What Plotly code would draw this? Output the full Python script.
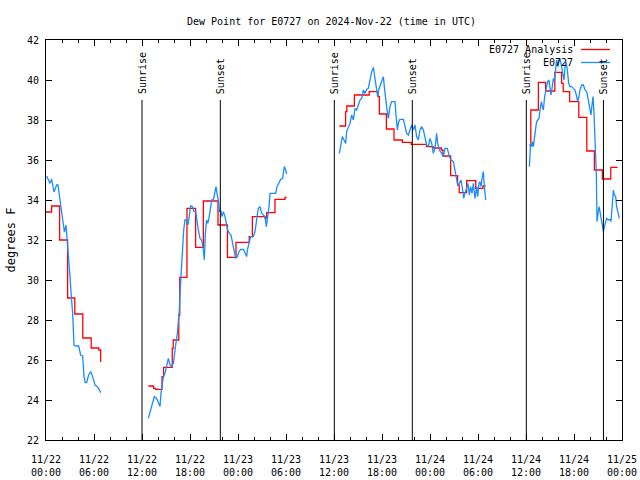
import plotly.graph_objects as go

# ---------------- data (hours since 2024-11-22 00:00 UTC) ----------------
obs_t1 = [0.08,0.5,0.7,1.0,1.33,1.5,1.75,1.96,2.17,2.3,2.5,2.67,2.83,3.0,3.2,3.33,3.5,3.75,4.08,4.33,4.58,4.75,4.9,5.08,5.33,5.58,5.83,6.13,6.42,6.58,6.83]
obs_v1 = [35.2,34.83,35.05,34.4,34.75,34.75,34.0,33.4,32.8,32.4,32.75,32.0,31.17,30.17,29.0,28.35,26.75,26.7,26.7,26.25,26.2,25.17,24.87,24.87,25.25,25.42,25.17,24.75,24.67,24.58,24.37]

obs_t2 = [12.79,13.08,13.42,13.54,13.83,14.04,14.25,14.375,14.54,14.67,14.875,15.08,15.29,15.5,15.71,15.92,16.04,16.21,16.42,16.54,16.67,16.75,16.875,17.0,17.08,17.21,17.375,17.58,17.75,17.92,18.08,18.29,18.5,18.71,18.83,19.04,19.25,19.46,19.67,19.79,19.92,20.08,20.21,20.33,20.5,20.71,20.92,21.125,21.25,21.375,21.54,21.67,21.83,22.0,22.17,22.375,22.54,22.71,22.92,23.125,23.33,23.5,23.71,23.92,24.125,24.33,24.67,24.92,25.08,25.17,25.33,25.58,25.92,26.125,26.33,26.54,26.75,26.96,27.17,27.375,27.54,27.71,27.875,28.0,28.33,28.71,28.875,29.125,29.33,29.58,29.79,29.96,30.08]
obs_v2 = [23.08,23.5,24.0,24.17,24.08,23.83,23.67,24.33,24.83,25.17,25.33,25.67,26.08,25.75,25.67,25.83,26.33,26.75,27.33,27.83,28.5,29.33,30.08,30.83,31.83,32.5,33.0,33.0,32.75,33.42,33.7,33.67,33.42,33.42,33.0,32.5,32.08,32.0,31.5,31.0,32.33,33.0,32.83,33.0,33.42,34.0,34.0,34.33,34.67,34.33,34.0,33.42,33.5,33.17,33.42,33.17,32.83,32.5,32.33,32.25,31.83,31.42,31.08,31.17,31.42,31.53,31.53,31.33,31.17,31.5,31.83,32.17,32.17,32.42,33.0,33.58,33.67,33.33,33.25,33.17,32.67,33.08,33.67,34.33,34.33,34.33,34.67,34.83,35.03,35.08,35.67,35.5,35.3]

obs_t3 = [36.67,36.83,37.04,37.25,37.46,37.58,37.79,38.0,38.21,38.42,38.625,38.83,39.04,39.25,39.46,39.67,39.875,40.08,40.29,40.5,40.71,40.92,41.04,41.21,41.33,41.46,41.58,41.75,41.96,42.17,42.29,42.46,42.58,42.79,43.0,43.21,43.625,43.75,43.92,44.08,44.25,44.67,44.875,45.08,45.29,45.5,45.71,45.92,46.125,46.33,46.54,46.75,46.96,47.17,47.375,47.58,47.79,48.0,48.21,48.42,48.625,48.83,48.96,49.17,49.46,49.67,49.875,50.17,50.42,50.625,50.92,51.125,51.33,51.46,51.67,51.875,52.08,52.21,52.375,52.58,52.75,52.92,53.08,53.25,53.42,53.625,53.83,53.96,54.125,54.25,54.375,54.54,54.67,54.79,54.96]
obs_v3 = [36.33,36.67,37.17,37.0,36.83,37.42,37.67,37.83,38.25,38.0,38.58,38.5,38.75,39.0,39.08,39.5,39.33,39.53,39.58,40.0,40.42,40.63,40.33,39.92,39.5,39.17,39.5,39.67,39.92,40.17,39.67,39.0,38.67,38.08,38.67,38.92,38.92,38.25,37.5,37.92,38.03,38.03,37.67,37.33,37.25,37.5,37.75,37.5,37.75,37.17,37.0,37.5,37.67,37.5,37.17,36.75,36.67,37.08,36.83,36.33,36.58,37.33,36.83,36.5,36.33,36.17,36.58,36.58,36.17,36.0,35.92,35.5,35.17,34.75,34.83,35.0,34.5,34.08,34.33,34.67,34.83,34.25,34.67,34.33,34.83,34.08,34.67,34.17,34.83,34.92,34.67,35.17,35.42,34.67,34.0]

obs_t4 = [60.42,60.58,60.71,60.83,60.92,61.04,61.21,61.33,61.46,61.625,61.75,61.92,62.04,62.17,62.33,62.5,62.71,62.875,63.0,63.125,63.29,63.42,63.54,63.71,63.83,64.0,64.125,64.29,64.46,64.625,64.75,64.875,65.0,65.17,65.33,65.5,65.71,65.92,66.125,66.29,66.46,66.625,66.75,66.96,67.17,67.375,67.58,67.79,68.0,68.125,68.25,68.375,68.5,68.67,68.79,68.875,69.0,69.125,69.25,69.375,69.54,69.67,69.79,69.96,70.08,70.29,70.5,70.625,70.79,70.92,71.04,71.21,71.33,71.5,71.67]
obs_v4 = [35.67,36.83,36.67,36.92,36.67,37.17,37.58,37.92,38.0,38.08,38.5,38.92,38.67,38.5,39.17,39.58,39.92,40.0,39.67,39.25,39.67,40.08,39.92,40.5,41.0,40.67,41.0,41.0,40.58,40.33,40.0,40.67,40.92,40.5,39.83,39.67,39.67,39.58,39.5,39.25,38.92,39.17,39.5,39.75,39.75,39.5,39.42,39.0,38.5,38.25,38.75,39.17,38.33,37.0,35.33,32.92,33.5,33.67,33.42,33.08,32.67,32.42,32.67,32.92,33.08,33.0,33.03,32.92,33.75,34.5,34.25,34.17,33.67,33.42,33.08]

ana_t1 = [0.0,0.7,1.7,2.7,3.6,4.6,5.65,6.6,6.83]
ana_v1 = [33.4,33.7,32.0,29.1,28.3,27.1,26.6,26.5,25.9]
ana_t2 = [12.79,13.45,13.7,14.5,14.7,15.78,15.9,16.6,16.72,17.62,18.7,19.67,21.5,22.68,23.75,25.4,25.8,27.375,27.58,28.625,29.875,30.08]
ana_v2 = [24.7,24.58,24.53,25.17,25.63,26.58,27.0,28.25,30.13,33.58,31.63,33.95,32.75,31.13,31.88,32.17,33.17,33.1,33.37,34.03,34.13,34.13]
ana_t3 = [36.67,37.45,37.6,38.55,40.4,41.5,41.67,42.55,43.5,44.55,45.65,47.55,48.4,49.42,49.62,50.58,51.45,51.65,52.58,53.72,54.62,54.96]
ana_v3 = [37.7,38.42,38.7,39.25,39.42,39.17,38.3,37.55,37.0,36.88,36.78,36.67,36.6,36.5,36.2,35.22,34.75,34.37,34.97,34.58,34.7,34.7]
ana_t4 = [60.42,60.6,61.55,62.45,63.6,64.45,64.65,65.45,66.6,67.6,68.55,69.55,70.6,71.45]
ana_v4 = [36.75,38.5,39.88,39.45,40.38,39.83,39.42,38.92,38.13,36.45,35.5,35.05,35.63,35.63]

sunrise_t = [12.0, 36.04, 60.04]
sunset_t = [21.79, 45.79, 69.68]

tick_hours = [0, 6, 12, 18, 24, 30, 36, 42, 48, 54, 60, 66, 72]
tick_labels = ["11/22<br>00:00", "11/22<br>06:00", "11/22<br>12:00", "11/22<br>18:00",
               "11/23<br>00:00", "11/23<br>06:00", "11/23<br>12:00", "11/23<br>18:00",
               "11/24<br>00:00", "11/24<br>06:00", "11/24<br>12:00", "11/24<br>18:00",
               "11/25<br>00:00"]

title_text = "Dew Point for E0727 on 2024-Nov-22 (time in UTC)"
name_ana = "E0727 Analysis"
name_obs = "E0727"
RED = "#ff0000"
BLUE = "#1a8cff"


def join(*segs):
    xs, ys = [], []
    for t, v in segs:
        if xs:
            xs.append(None)
            ys.append(None)
        xs += t
        ys += v
    return xs, ys


ax, ay = join((ana_t1, ana_v1), (ana_t2, ana_v2), (ana_t3, ana_v3), (ana_t4, ana_v4))
bx, by = join((obs_t1, obs_v1), (obs_t2, obs_v2), (obs_t3, obs_v3), (obs_t4, obs_v4))

fig = go.Figure()
fig.add_trace(go.Scatter(x=ax, y=ay, mode="lines", name=name_ana,
                         line=dict(color=RED, width=1.3, shape="hv"),
                         connectgaps=False, showlegend=False))
fig.add_trace(go.Scatter(x=bx, y=by, mode="lines", name=name_obs,
                         line=dict(color=BLUE, width=1.3),
                         connectgaps=False, showlegend=False))

shapes = []
annots = []
for t in sunrise_t + sunset_t:
    shapes.append(dict(type="line", xref="x", yref="y", x0=t, x1=t, y0=22, y1=39,
                       line=dict(color="black", width=1)))
for t, lab in [(t, "Sunrise") for t in sunrise_t] + [(t, "Sunset") for t in sunset_t]:
    annots.append(dict(x=t, y=39, xref="x", yref="y", text=lab, showarrow=False,
                       textangle=-90, xanchor="center", yanchor="bottom", yshift=4,
                       font=dict(size=10)))

# legend (gnuplot style: text right-aligned, sample line to its right)
pw, ph = 576.0, 400.0
def px(x):
    return (x - 46) / pw
def py(y):
    return (440 - y) / ph

for name, col, yy in [(name_ana, RED, 49.5), (name_obs, BLUE, 62.5)]:
    annots.append(dict(x=px(575), y=py(yy), xref="paper", yref="paper", text=name,
                       showarrow=False, xanchor="right", yanchor="middle",
                       font=dict(size=10)))
    shapes.append(dict(type="line", xref="paper", yref="paper", x0=px(581), x1=px(610),
                       y0=py(yy), y1=py(yy), line=dict(color=col, width=1.3)))

fig.update_layout(
    width=640, height=480,
    margin=dict(l=46, r=18, t=40, b=40, autoexpand=False),
    paper_bgcolor="white", plot_bgcolor="white",
    font=dict(family="DejaVu Sans Mono", size=10, color="black"),
    title=dict(text=title_text, x=331.5 / 640, xref="container", y=1 - 21 / 480,
               yref="container", xanchor="center", yanchor="middle",
               font=dict(size=10)),
    shapes=shapes, annotations=annots, showlegend=False,
)
fig.update_xaxes(range=[0, 72], tickmode="array", tickvals=tick_hours, ticktext=tick_labels,
                 ticks="inside", ticklen=6, tickcolor="black", showline=True,
                 linecolor="black", linewidth=1, mirror="ticks", showgrid=False,
                 zeroline=False, automargin=False, ticklabelstandoff=10,
                 minor=dict(tickmode="linear", tick0=0, dtick=2, ticks="inside",
                            ticklen=3, tickcolor="black", showgrid=False))
fig.update_yaxes(range=[22, 42], tickmode="linear", tick0=22, dtick=2,
                 ticks="inside", ticklen=6, tickcolor="black", showline=True,
                 linecolor="black", linewidth=1, mirror="ticks", showgrid=False,
                 zeroline=False, automargin=False, ticklabelstandoff=4,
                 title=dict(text="degrees F", standoff=8))

fig.write_html("out.html", config={"displayModeBar": False},
               post_script="document.body.style.margin='0px';document.body.style.overflow='hidden';")
